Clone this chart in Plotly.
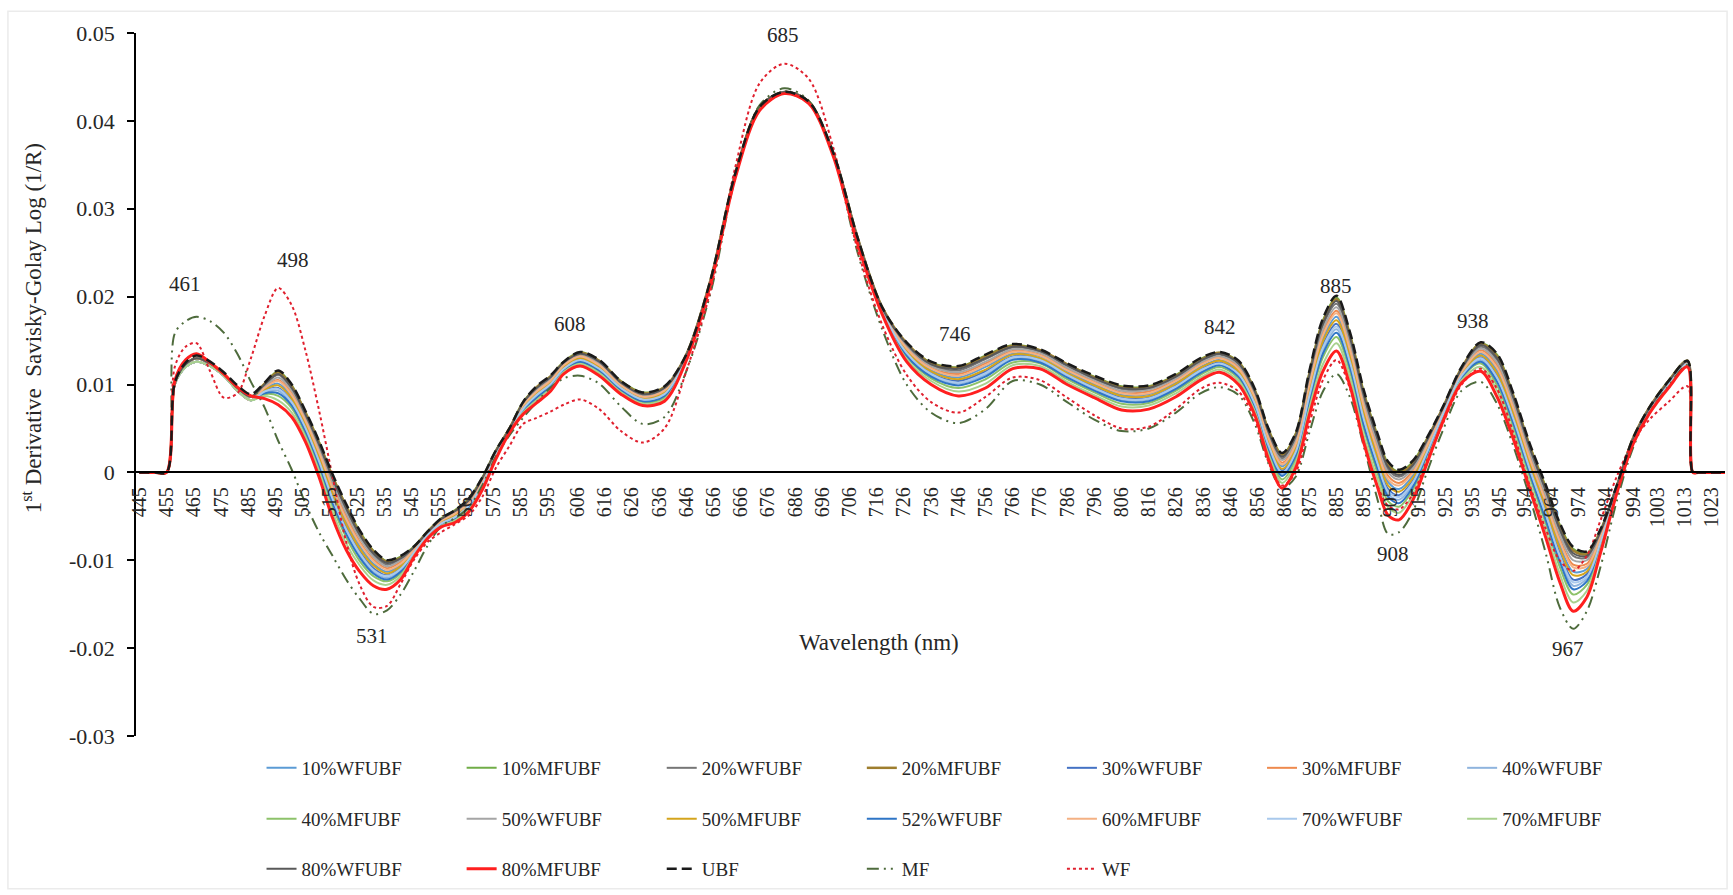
import plotly.graph_objects as go

# Wavelength grid (nm) on which the spectra are sampled
wavelength = [445, 451, 455, 458, 462, 466, 471, 476, 481, 486, 491, 496, 501, 506, 511, 516, 521, 526, 531, 536,
              541, 546, 551, 556, 561, 566, 571, 576, 581, 586, 591, 596, 601, 607, 614, 622, 630, 638, 646, 655,
              664, 673, 682, 691, 700, 709, 718, 727, 736, 746, 756, 766, 776, 786, 796, 806, 816, 826, 835, 842,
              849, 855, 860, 865, 870, 875, 880, 885, 890, 895, 900, 904, 908, 913, 918, 924, 931, 938, 944, 950,
              956, 962, 967, 972, 977, 982, 988, 994, 1000, 1007, 1014, 1016, 1018, 1028]

# First-derivative Savitzky-Golay log(1/R) values, in units of 1e-4
ubf = [0, 0, 0, 102, 125, 133, 126, 114, 99, 89, 102, 116, 100, 70, 36, -2, -36, -66, -88, -100,
       -95, -84, -67, -52, -43, -30, -6, 25, 50, 80, 98, 110, 126, 137, 128, 104, 91, 98, 134, 220,
       340, 416, 433, 422, 364, 267, 188, 148, 126, 121, 134, 146, 140, 124, 110, 99, 99, 112, 130, 137,
       127, 95, 50, 22, 45, 115, 175, 201, 159, 94, 45, 12, 3, 13, 38, 74, 120, 148, 135, 90,
       33, -15, -57, -85, -90, -65, -15, 39, 74, 104, 127, 0, 0, 0]
mf = [0, 0, 0, 158, 172, 177, 172, 159, 135, 103, 74, 36, 3, -35, -68, -95, -122, -144, -161, -157,
      -139, -112, -83, -61, -52, -40, -15, 18, 42, 62, 80, 96, 107, 110, 101, 75, 55, 63, 115, 205,
      335, 418, 437, 423, 362, 250, 163, 100, 68, 56, 72, 104, 100, 80, 60, 47, 50, 68, 90, 97,
      88, 55, 10, -18, -5, 45, 92, 112, 85, 30, -30, -70, -68, -45, -2, 47, 93, 103, 78, 30,
      -28, -93, -153, -178, -158, -108, -33, 28, 68, 98, 122, 0, 0, 0]
wf = [0, 0, 0, 120, 143, 147, 115, 85, 90, 130, 178, 210, 190, 139, 71, -5, -79, -128, -153, -152,
      -127, -99, -79, -68, -59, -49, -28, 5, 30, 55, 62, 69, 77, 83, 72, 47, 34, 50, 115, 208,
      347, 443, 465, 448, 370, 253, 168, 111, 80, 68, 86, 108, 105, 85, 65, 50, 52, 72, 95, 102,
      92, 60, 12, -15, 0, 55, 105, 128, 95, 35, -15, -38, -42, -25, 12, 55, 100, 118, 95, 45,
      -15, -65, -100, -112, -95, -55, -5, 35, 60, 80, 98, 0, 0, 0]
wfubf_10 = [0, 0, 0, 100, 120, 126, 121, 110, 93, 82, 95, 101, 86, 57, 20, -21, -56, -84, -104, -113,
            -105, -89, -70, -56, -48, -36, -11, 21, 48, 75, 91, 103, 121, 131, 121, 98, 85, 92, 131, 218,
            338, 414, 432, 421, 362, 264, 185, 140, 116, 108, 120, 135, 132, 115, 100, 88, 89, 102, 120, 128,
            117, 84, 37, 7, 30, 96, 152, 177, 136, 71, 22, -11, -19, -4, 27, 68, 113, 135, 116, 70,
            13, -38, -82, -113, -110, -75, -18, 36, 71, 101, 124, 0, 0, 0]
mfubf_10 = [0, 0, 0, 101, 123, 130, 124, 112, 96, 86, 101, 115, 99, 69, 35, -4, -38, -67, -89, -101,
            -96, -84, -67, -52, -43, -30, -6, 25, 50, 80, 97, 109, 126, 137, 127, 104, 91, 97, 134, 220,
            340, 416, 433, 422, 364, 267, 188, 147, 125, 120, 133, 145, 139, 123, 109, 98, 98, 111, 129, 136,
            126, 94, 49, 21, 44, 113, 173, 199, 157, 92, 43, 10, 1, 12, 37, 73, 119, 147, 134, 88,
            31, -17, -59, -87, -92, -66, -15, 39, 74, 104, 127, 0, 0, 0]
wfubf_20 = [0, 0, 0, 101, 123, 130, 124, 112, 96, 86, 99, 111, 95, 65, 30, -9, -43, -73, -94, -105,
            -99, -86, -68, -53, -45, -32, -8, 24, 49, 78, 95, 107, 124, 135, 125, 102, 89, 96, 133, 219,
            339, 415, 433, 422, 363, 266, 187, 145, 122, 116, 129, 142, 137, 121, 106, 95, 95, 108, 126, 134,
            123, 91, 45, 16, 39, 108, 167, 192, 150, 86, 36, 3, -5, 7, 34, 72, 117, 143, 128, 83,
            26, -23, -66, -95, -97, -69, -16, 38, 73, 103, 126, 0, 0, 0]
mfubf_20 = [0, 0, 0, 101, 123, 130, 124, 112, 96, 86, 101, 114, 98, 68, 34, -5, -39, -69, -90, -102,
            -97, -85, -67, -53, -44, -31, -7, 24, 50, 79, 97, 109, 125, 136, 127, 103, 90, 97, 134, 220,
            340, 416, 433, 422, 364, 267, 188, 147, 124, 119, 132, 144, 139, 123, 108, 97, 97, 110, 128, 136,
            125, 93, 48, 20, 43, 112, 171, 197, 155, 90, 41, 8, 0, 10, 36, 73, 119, 146, 132, 87,
            30, -19, -61, -89, -93, -67, -16, 39, 74, 104, 127, 0, 0, 0]
wfubf_30 = [0, 0, 0, 100, 120, 126, 121, 110, 93, 82, 93, 96, 81, 52, 15, -27, -62, -90, -109, -117,
            -109, -90, -71, -57, -50, -38, -13, 20, 47, 73, 88, 101, 119, 129, 119, 96, 83, 89, 130, 217,
            337, 414, 432, 421, 362, 263, 184, 137, 113, 104, 115, 132, 129, 112, 97, 85, 85, 99, 117, 125,
            113, 80, 32, 2, 25, 90, 145, 169, 128, 64, 14, -19, -26, -10, 23, 65, 111, 131, 110, 64,
            7, -45, -91, -122, -116, -79, -20, 35, 70, 100, 123, 0, 0, 0]
mfubf_30 = [0, 0, 0, 101, 123, 130, 124, 112, 96, 86, 97, 105, 90, 61, 25, -16, -50, -79, -99, -109,
            -102, -87, -69, -55, -47, -34, -10, 22, 49, 76, 93, 105, 122, 133, 123, 100, 87, 93, 132, 219,
            339, 415, 432, 421, 363, 265, 186, 142, 119, 112, 124, 138, 134, 118, 103, 91, 92, 105, 123, 131,
            120, 87, 41, 11, 34, 101, 159, 184, 143, 78, 29, -4, -12, 1, 30, 69, 115, 139, 122, 76,
            19, -31, -75, -105, -104, -72, -17, 37, 72, 102, 125, 0, 0, 0]
wfubf_40 = [0, 0, 0, 100, 120, 126, 121, 110, 93, 82, 91, 93, 78, 49, 11, -32, -67, -94, -113, -120,
            -111, -91, -72, -58, -51, -39, -14, 19, 47, 72, 87, 99, 118, 127, 117, 95, 82, 88, 130, 217,
            337, 414, 432, 421, 362, 263, 183, 135, 110, 101, 111, 129, 127, 110, 95, 82, 83, 96, 115, 123,
            111, 77, 29, -2, 21, 85, 139, 163, 122, 58, 8, -25, -31, -14, 20, 64, 109, 128, 106, 59,
            2, -51, -97, -129, -121, -81, -20, 35, 70, 99, 123, 0, 0, 0]
mfubf_40 = [0, 0, 0, 100, 120, 126, 121, 110, 93, 82, 89, 87, 73, 44, 6, -39, -74, -101, -118, -124,
            -115, -93, -73, -59, -53, -41, -16, 18, 46, 70, 84, 97, 116, 125, 115, 93, 80, 85, 129, 216,
            336, 413, 432, 421, 361, 262, 182, 132, 107, 96, 106, 125, 124, 106, 91, 78, 79, 93, 111, 120,
            107, 73, 24, -8, 15, 78, 131, 154, 114, 50, 0, -33, -39, -20, 16, 61, 107, 124, 99, 52,
            -5, -59, -107, -139, -128, -85, -22, 34, 69, 98, 122, 0, 0, 0]
wfubf_50 = [0, 0, 0, 101, 123, 130, 124, 112, 96, 86, 98, 108, 93, 63, 28, -12, -46, -75, -96, -107,
            -100, -86, -69, -54, -46, -33, -9, 23, 49, 77, 94, 106, 123, 134, 124, 101, 88, 95, 133, 219,
            339, 415, 433, 422, 363, 266, 186, 144, 121, 114, 126, 140, 136, 119, 105, 93, 94, 107, 125, 132,
            122, 89, 43, 14, 37, 105, 163, 188, 147, 82, 33, 0, -8, 4, 32, 71, 116, 141, 125, 80,
            23, -27, -70, -100, -100, -70, -17, 38, 73, 102, 126, 0, 0, 0]
mfubf_50 = [0, 0, 0, 100, 120, 126, 121, 110, 93, 82, 94, 99, 84, 55, 18, -24, -59, -87, -106, -115,
            -107, -89, -71, -56, -49, -37, -12, 21, 48, 74, 90, 102, 120, 130, 120, 97, 84, 91, 131, 218,
            338, 414, 432, 421, 362, 264, 184, 138, 115, 106, 117, 134, 130, 113, 99, 87, 87, 101, 119, 127,
            115, 82, 35, 4, 27, 93, 149, 173, 132, 68, 18, -15, -22, -7, 25, 67, 112, 133, 113, 67,
            10, -41, -86, -117, -113, -77, -19, 36, 71, 100, 124, 0, 0, 0]
wfubf_52 = [0, 0, 0, 100, 120, 126, 121, 110, 93, 82, 90, 90, 76, 47, 9, -35, -70, -97, -115, -122,
            -113, -92, -72, -59, -52, -40, -15, 18, 47, 71, 85, 98, 117, 126, 116, 94, 81, 87, 129, 217,
            337, 413, 432, 421, 361, 262, 183, 133, 109, 99, 109, 128, 125, 108, 93, 81, 81, 95, 113, 122,
            109, 75, 27, -4, 19, 82, 135, 159, 119, 54, 5, -28, -35, -17, 18, 63, 108, 126, 103, 56,
            -1, -55, -101, -133, -124, -83, -21, 34, 69, 99, 122, 0, 0, 0]
mfubf_60 = [0, 0, 0, 100, 120, 126, 121, 110, 93, 82, 96, 104, 88, 59, 23, -18, -53, -81, -101, -111,
            -104, -88, -70, -55, -47, -35, -10, 22, 48, 76, 92, 104, 122, 132, 122, 99, 86, 93, 132, 218,
            338, 415, 432, 421, 363, 265, 185, 141, 118, 110, 122, 137, 133, 116, 102, 90, 90, 104, 122, 130,
            118, 85, 39, 9, 32, 99, 156, 181, 139, 75, 25, -8, -15, -1, 28, 69, 114, 137, 119, 73,
            16, -34, -78, -108, -107, -74, -18, 37, 72, 101, 125, 0, 0, 0]
wfubf_70 = [0, 0, 0, 100, 120, 126, 121, 110, 93, 82, 92, 95, 80, 51, 13, -30, -65, -92, -111, -118,
            -110, -91, -71, -58, -51, -38, -14, 19, 47, 72, 88, 100, 118, 128, 118, 96, 83, 89, 130, 217,
            337, 414, 432, 421, 362, 263, 184, 136, 112, 102, 113, 131, 128, 111, 96, 84, 84, 98, 116, 124,
            112, 78, 31, 0, 23, 87, 142, 166, 125, 61, 11, -22, -28, -12, 21, 65, 110, 130, 108, 61,
            4, -48, -94, -125, -119, -80, -20, 35, 70, 100, 123, 0, 0, 0]
mfubf_70 = [0, 0, 0, 100, 120, 126, 121, 110, 93, 82, 87, 82, 68, 40, 1, -45, -81, -106, -123, -128,
            -118, -94, -74, -61, -55, -43, -18, 16, 46, 68, 82, 95, 114, 123, 113, 91, 78, 83, 128, 216,
            336, 413, 431, 420, 361, 261, 181, 129, 104, 92, 101, 122, 121, 103, 88, 75, 76, 90, 108, 117,
            104, 69, 20, -12, 11, 72, 123, 147, 107, 42, -7, -40, -46, -26, 12, 59, 105, 120, 93, 45,
            -12, -67, -115, -148, -135, -88, -23, 33, 68, 97, 121, 0, 0, 0]
wfubf_80 = [0, 0, 0, 101, 123, 130, 124, 112, 96, 86, 100, 112, 96, 66, 32, -7, -41, -71, -92, -103,
            -98, -85, -68, -53, -44, -32, -7, 24, 49, 79, 96, 108, 125, 135, 126, 102, 89, 96, 133, 219,
            339, 416, 433, 422, 364, 266, 187, 146, 123, 118, 130, 143, 138, 122, 107, 96, 96, 109, 127, 135,
            124, 92, 46, 18, 41, 110, 169, 195, 153, 88, 39, 6, -3, 8, 35, 72, 118, 145, 130, 85,
            28, -21, -64, -92, -95, -68, -16, 38, 73, 103, 126, 0, 0, 0]
mfubf_80 = [0, 0, 0, 104, 128, 135, 125, 112, 97, 87, 84, 77, 63, 35, -5, -52, -88, -113, -129, -133,
            -122, -96, -75, -62, -57, -45, -20, 15, 45, 66, 79, 92, 112, 121, 110, 89, 76, 81, 127, 215,
            335, 412, 431, 420, 360, 260, 180, 126, 100, 87, 96, 118, 118, 100, 85, 71, 72, 86, 105, 114,
            100, 65, 15, -18, 5, 65, 115, 138, 98, 34, -16, -49, -54, -32, 8, 57, 102, 115, 86, 38,
            -19, -75, -124, -158, -142, -92, -24, 32, 67, 96, 120, 0, 0, 0]

x_tick_labels = [445, 455, 465, 475, 485, 495, 505, 515, 525, 535, 545, 555, 565, 575, 585, 595, 606, 616,
                 626, 636, 646, 656, 666, 676, 686, 696, 706, 716, 726, 736, 746, 756, 766, 776, 786, 796,
                 806, 816, 826, 836, 846, 856, 866, 875, 885, 895, 905, 915, 925, 935, 945, 954, 964, 974,
                 984, 994, 1003, 1013, 1023]
y_tick_values = [-0.03, -0.02, -0.01, 0, 0.01, 0.02, 0.03, 0.04, 0.05]
y_tick_labels = ["-0.03", "-0.02", "-0.01", "0", "0.01", "0.02", "0.03", "0.04", "0.05"]
peak_labels = ["461", "498", "531", "608", "685", "746", "842", "885", "908", "938", "967"]

SERIF = "Liberation Serif, Times New Roman, serif"
TEXT = "#262626"

# name, values, colour, width, dash, legend row
series = [
    ("10%WFUBF", wfubf_10, "#5B9BD5", 2, "solid", "legend"),
    ("10%MFUBF", mfubf_10, "#70AD47", 2, "solid", "legend"),
    ("20%WFUBF", wfubf_20, "#767676", 2, "solid", "legend"),
    ("20%MFUBF", mfubf_20, "#9E7E2E", 2.5, "solid", "legend"),
    ("30%WFUBF", wfubf_30, "#4472C4", 2, "solid", "legend"),
    ("30%MFUBF", mfubf_30, "#EE8A4E", 2, "solid", "legend"),
    ("40%WFUBF", wfubf_40, "#8FB4DE", 2, "solid", "legend"),
    ("40%MFUBF", mfubf_40, "#8DC26A", 2, "solid", "legend2"),
    ("50%WFUBF", wfubf_50, "#A5A5A5", 2, "solid", "legend2"),
    ("50%MFUBF", mfubf_50, "#D4A41C", 2, "solid", "legend2"),
    ("52%WFUBF", wfubf_52, "#2E75C6", 2, "solid", "legend2"),
    ("60%MFUBF", mfubf_60, "#F4B183", 2, "solid", "legend2"),
    ("70%WFUBF", wfubf_70, "#A9C9EC", 2, "solid", "legend2"),
    ("70%MFUBF", mfubf_70, "#A9D18E", 2, "solid", "legend2"),
    ("80%WFUBF", wfubf_80, "#595959", 2, "solid", "legend3"),
    ("MF", mf, "#4E6B3C", 2, "12px,5px,2px,5px,2px,5px", "legend3"),
    ("WF", wf, "#E0202E", 2, "3px,3px", "legend3"),
    ("80%MFUBF", mfubf_80, "#FF1F1F", 3, "solid", "legend3"),
    ("UBF", ubf, "#1A1A1A", 2.5, "10px,5px", "legend3"),
]
legend_rank = {"80%WFUBF": 1, "80%MFUBF": 2, "UBF": 3, "MF": 4, "WF": 5}

fig = go.Figure()
for i, (name, vals, color, width, dash, leg) in enumerate(series):
    fig.add_trace(go.Scatter(
        x=wavelength, y=[v / 1e4 for v in vals], name=name, mode="lines",
        line=dict(color=color, width=width, dash=dash, shape="spline", smoothing=0.9),
        legend=leg, legendrank=legend_rank.get(name, i + 1),
    ))

# peak / trough wavelength labels (data coordinates)
label_pos = [(461.8, 0.0214), (501.5, 0.0242), (530.5, -0.0186), (603.3, 0.0169), (681.5, 0.0498),
             (744.8, 0.0157), (842.0, 0.0165), (885.0, 0.0212), (905.7, -0.0093), (935.2, 0.0172),
             (970.1, -0.0201)]
annotations = [dict(x=x, y=y, text=t, showarrow=False, xanchor="center", yanchor="middle",
                    font=dict(family=SERIF, size=21, color=TEXT))
               for t, (x, y) in zip(peak_labels, label_pos)]
annotations.append(dict(xref="paper", yref="paper", x=0.4676, y=0.1335, text="Wavelength (nm)",
                        xanchor="center", yanchor="middle",
                        showarrow=False, font=dict(family=SERIF, size=23, color=TEXT)))
annotations.append(dict(xref="paper", yref="paper", x=-0.0654, y=0.58, textangle=-90,
                        xanchor="center", yanchor="middle",
                        text="1<sup>st</sup> Derivative\u00a0 Savisky-Golay Log (1/R)",
                        showarrow=False, font=dict(family=SERIF, size=23, color=TEXT)))

legend_common = dict(orientation="h", xanchor="left", yanchor="middle", entrywidth=155.1,
                     entrywidthmode="pixels", font=dict(family=SERIF, size=19, color=TEXT),
                     bgcolor="rgba(0,0,0,0)", traceorder="normal")

fig.update_layout(
    width=1733, height=895, autosize=False,
    margin=dict(l=136, r=8, t=33, b=158),
    paper_bgcolor="white", plot_bgcolor="white",
    showlegend=True,
    legend=dict(x=0.079, y=-0.044, **legend_common),
    legend2=dict(x=0.079, y=-0.1165, **legend_common),
    legend3=dict(x=0.079, y=-0.1875, **legend_common),
    annotations=annotations,
    xaxis=dict(range=[443.75, 1027.8], tickmode="array", tickvals=x_tick_labels,
               ticktext=[str(v) for v in x_tick_labels], tickangle=-90,
               anchor="free", position=0.375, showline=True, linecolor="black", linewidth=1.5,
               showgrid=False, zeroline=False, ticks="", ticklabelstandoff=6,
               tickfont=dict(family=SERIF, size=20, color=TEXT)),
    yaxis=dict(range=[-0.03, 0.05], tickmode="array", tickvals=y_tick_values, ticktext=y_tick_labels,
               showline=True, linecolor="black", linewidth=1.5, showgrid=False, zeroline=False,
               ticks="outside", ticklen=7, tickcolor="black", tickwidth=1.5, ticklabelstandoff=8,
               tickfont=dict(family=SERIF, size=22, color=TEXT)),
    shapes=[dict(type="rect", xref="paper", yref="paper", x0=-0.0806, x1=1.0013, y0=-0.2173, y1=1.031,
                 line=dict(color="#EBEBEB", width=1.5), fillcolor="rgba(0,0,0,0)", layer="below")],
)

fig.write_html("out.html")
